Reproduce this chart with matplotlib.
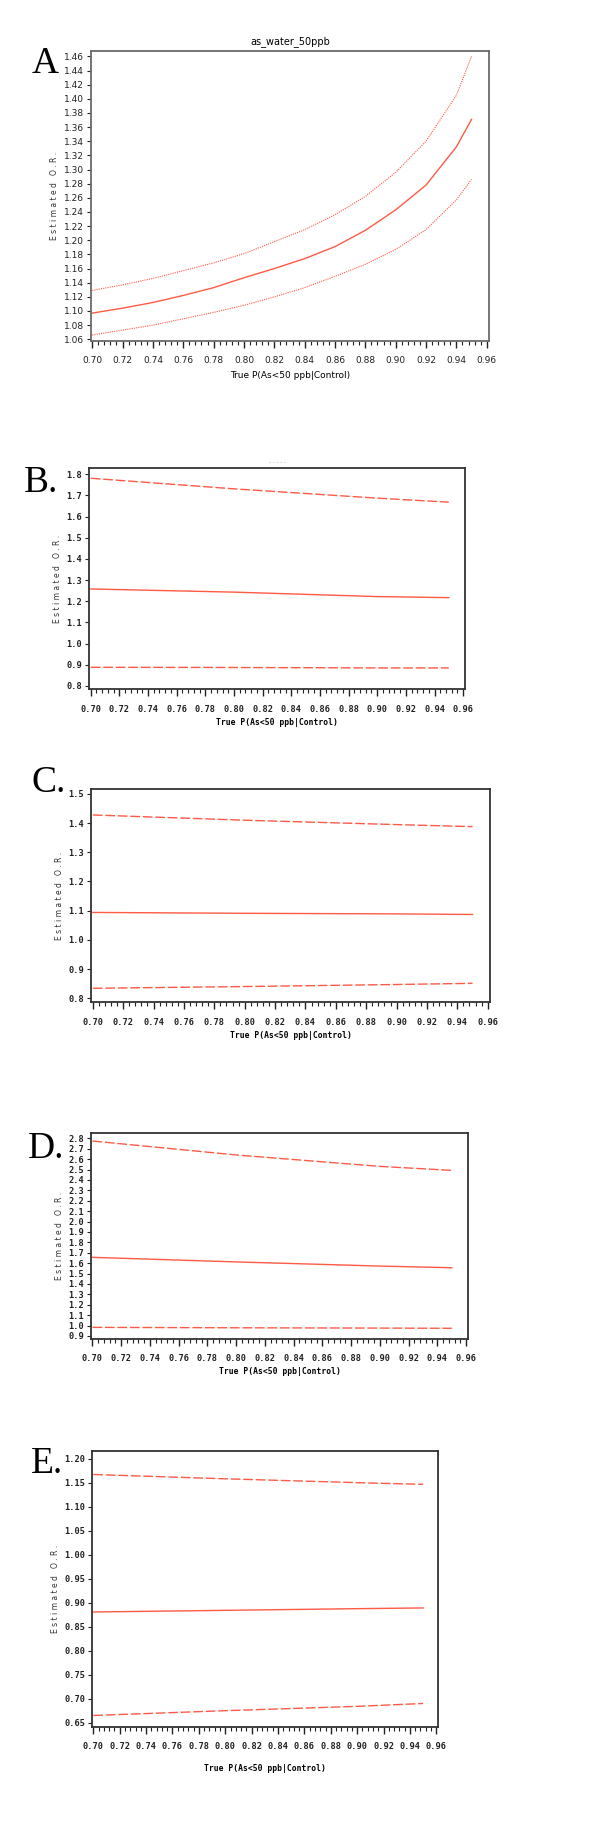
import numpy as np
import matplotlib
matplotlib.use("Agg")
import matplotlib.pyplot as plt
from matplotlib.ticker import MultipleLocator

# ---- data ----
p_a = [0.70, 0.72, 0.74, 0.76, 0.78, 0.80, 0.82, 0.84, 0.86, 0.88, 0.90, 0.92, 0.94, 0.95]
or_a = [1.097, 1.104, 1.112, 1.122, 1.133, 1.147, 1.160, 1.174, 1.191, 1.214, 1.243, 1.278, 1.332, 1.371]
up_a = [1.129, 1.137, 1.146, 1.157, 1.168, 1.181, 1.198, 1.215, 1.236, 1.262, 1.296, 1.340, 1.405, 1.460]
lo_a = [1.066, 1.073, 1.080, 1.089, 1.098, 1.108, 1.120, 1.133, 1.149, 1.166, 1.187, 1.215, 1.257, 1.286]

p_line = [0.70, 0.80, 0.90, 0.95]
or_b = [1.258, 1.243, 1.222, 1.217]
up_b = [1.781, 1.731, 1.687, 1.668]
lo_b = [0.888, 0.887, 0.885, 0.885]

or_c = [1.094, 1.091, 1.089, 1.087]
up_c = [1.428, 1.410, 1.395, 1.388]
lo_c = [0.834, 0.840, 0.847, 0.851]

or_d = [1.656, 1.612, 1.572, 1.556]
up_d = [2.774, 2.640, 2.530, 2.492]
lo_d = [0.983, 0.979, 0.976, 0.974]

or_e = [0.8806, 0.8840, 0.8875, 0.889]
up_e = [1.167, 1.158, 1.150, 1.1465]
lo_e = [0.665, 0.675, 0.684, 0.690]

W, H = 600, 1826
RED = '#ff5a46'
XLAB = 'True P(As<50 ppb|Control)'
YLAB = 'E s t i m a t e d   O . R .'

fig = plt.figure(figsize=(W / 100, H / 100), dpi=100)


def add_ax(l, r, t, b):
    return fig.add_axes([l / W, 1 - b / H, (r - l) / W, (b - t) / H])


def style(ax, ylim, ystep, yfmt, font, weight, fs, xfs, spine_col, xlabelpad):
    ax.set_xlim(0.699, 0.9615)
    ax.set_ylim(*ylim)
    ax.xaxis.set_minor_locator(MultipleLocator(0.004))
    xt = np.round(np.arange(0.70, 0.961, 0.02), 2)
    ax.set_xticks(xt)
    ax.set_xticklabels([f'{v:.2f}' for v in xt], fontsize=fs, family=font, fontweight=weight)
    yt = np.round(np.arange(np.ceil(ylim[0] / ystep - 1e-6) * ystep, ylim[1], ystep), 3)
    ax.set_yticks(yt)
    ax.set_yticklabels([yfmt.format(v) for v in yt], fontsize=fs, family=font, fontweight=weight)
    ax.tick_params(axis='x', which='major', length=5, width=1, pad=6, colors='#222')
    ax.tick_params(axis='x', which='minor', length=3, width=0.8, colors='#222')
    ax.tick_params(axis='y', which='major', length=3, width=0.8, pad=2, colors='#222')
    for s in ax.spines.values():
        s.set_color(spine_col)
        s.set_linewidth(1.3)
    ax.set_ylabel(YLAB, fontsize=5.5, family='DejaVu Sans', labelpad=3, color='#333')
    ax.set_xlabel(XLAB, fontsize=xfs, family=font, fontweight=weight, labelpad=xlabelpad)


# ---- A ----
axA = add_ax(90.7, 489, 50.7, 340.7)
axA.plot(p_a, or_a, color=RED, lw=1.0)
axA.plot(p_a, up_a, color=RED, lw=0.8, ls=(0, (1, 1)))
axA.plot(p_a, lo_a, color=RED, lw=0.8, ls=(0, (1, 1)))
style(axA, (1.058, 1.468), 0.02, '{:.2f}', 'DejaVu Sans', 'normal', 6.5, 6.5, '#6a6a6a', 4)
axA.set_title('as_water_50ppb', fontsize=7, pad=5)

# ---- B to E ----
panels = [
    ((89.3, 465.3, 468.3, 689.3), (0.784, 1.828), 0.1, '{:.1f}', or_b, up_b, lo_b, 3),
    ((91.3, 490, 789, 1002.3), (0.786, 1.517), 0.1, '{:.1f}', or_c, up_c, lo_c, 3),
    ((91, 468.3, 1133, 1338.7), (0.874, 2.851), 0.1, '{:.1f}', or_d, up_d, lo_d, 3),
    ((92, 438.3, 1451.3, 1727), (0.641, 1.2153), 0.05, '{:.2f}', or_e, up_e, lo_e, 9),
]
axes = [axA]
for box, ylim, ystep, yfmt, mid, up, lo, lp in panels:
    ax = add_ax(*box)
    ax.plot(p_line, mid, color=RED, lw=1.0)
    ax.plot(p_line, up, color=RED, lw=1.0, ls=(0, (7, 2)))
    ax.plot(p_line, lo, color=RED, lw=1.0, ls=(0, (7, 2)))
    style(ax, ylim, ystep, yfmt, 'DejaVu Sans Mono', 'bold', 6.2, 5.8, '#333333', lp)
    axes.append(ax)

axes[1].set_title('- - - - -', fontsize=4, color='#999999', pad=3)

# panel letters
letters = [('A', 45, 73), ('B.', 41, 492), ('C.', 49, 792), ('D.', 46, 1158), ('E.', 47, 1473)]
for txt, x, y in letters:
    fig.text(x / W, 1 - y / H, txt, fontsize=27, family='Liberation Serif',
             ha='center', va='baseline')

fig.savefig('out.png', dpi=100)
